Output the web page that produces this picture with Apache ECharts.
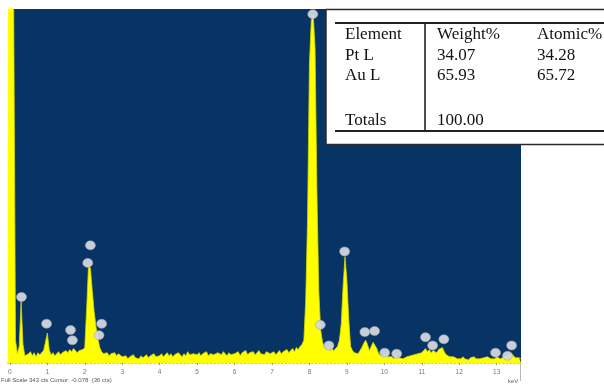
<!DOCTYPE html>
<html>
<head>
<meta charset="utf-8">
<title>EDS spectrum</title>
<script src="https://cdn.jsdelivr.net/npm/echarts@6/dist/echarts.min.js"></script>
<style>
  html, body { margin: 0; padding: 0; background: #ffffff; }
  #chart { width: 604px; height: 384px; }
</style>
</head>
<body>
<div id="chart"></div>
<script>
// Spectrum channels: counts sampled every 0.05 keV, starting at -0.05 keV
const energyStart = -0.05;
const energyStep = 0.05;
const counts = [
  400,
  // 0.00 - 0.95 keV
  400, 400, 360, 22, 9, 16, 60, 18, 7, 6, 9, 11, 7, 10, 6, 10, 8, 9, 12, 20,
  // 1.00 - 1.95 keV
  29, 13, 8, 10, 7, 9, 11, 8, 10, 9, 12, 10, 13, 11, 14, 12, 10, 12, 11, 13,
  // 2.00 - 2.95 keV
  15, 52, 94, 92, 70, 50, 35, 24, 15, 11, 9, 8, 10, 7, 9, 8, 10, 7, 9, 8,
  // 3.00 - 3.95 keV
  6, 5, 7, 4, 6, 5, 8, 5, 6, 4, 7, 5, 6, 8, 5, 7, 6, 9, 6, 7,
  // 4.00 - 4.95 keV
  7, 9, 6, 8, 10, 7, 9, 6, 8, 7, 10, 8, 6, 9, 7, 11, 8, 7, 9, 8,
  // 5.00 - 5.95 keV
  8, 10, 7, 9, 8, 11, 7, 9, 10, 8, 7, 10, 9, 8, 11, 9, 7, 10, 8, 9,
  // 6.00 - 6.95 keV
  9, 8, 11, 7, 10, 9, 12, 8, 10, 9, 11, 8, 10, 12, 9, 10, 8, 11, 10, 9,
  // 7.00 - 7.95 keV
  9, 11, 8, 10, 12, 9, 11, 10, 13, 10, 12, 14, 11, 15, 13, 16, 18, 22, 60, 140,
  // 8.00 - 8.95 keV
  290, 332, 338, 305, 165, 70, 32, 20, 15, 13, 15, 12, 14, 12, 13, 16, 22, 38, 75, 103,
  // 9.00 - 9.95 keV
  80, 42, 16, 12, 10, 11, 9, 12, 15, 19, 22, 18, 12, 16, 20, 21, 14, 9, 7, 8,
  // 10.00 - 10.95 keV
  7, 9, 6, 5, 6, 4, 7, 8, 5, 6, 4, 5, 6, 5, 7, 6, 8, 7, 9, 8,
  // 11.00 - 11.95 keV
  10, 12, 14, 11, 13, 10, 12, 11, 10, 13, 12, 15, 11, 8, 7, 6, 5, 6, 5, 4,
  // 12.00 - 12.95 keV
  5, 4, 6, 4, 5, 3, 5, 4, 6, 4, 5, 4, 3, 5, 4, 6, 5, 4, 5, 4,
  // 13.00 - 13.65 keV
  6, 5, 4, 5, 6, 5, 7, 6, 9, 7, 5, 4, 5, 4
];

// Peak identification markers: [energy keV, counts]
const peakMarkers = [
  [0.31, 64], [0.98, 38], [1.62, 32], [1.67, 22],
  [2.15, 114], [2.08, 97], [2.45, 38], [2.38, 27],
  [8.09, 338], [8.29, 37], [8.52, 17], [8.94, 108],
  [9.48, 30], [9.74, 31], [10.01, 10], [10.33, 9],
  [11.10, 25], [11.29, 17], [11.59, 23],
  [12.97, 10], [13.29, 7], [13.40, 17]
];

const tickLabels = [0, 1, 2, 3, 4, 5, 6, 7, 8, 9, 10, 11, 12, 13];
const fullScale = 343;

// Quantification table
const tableHeader = ['Element', 'Weight%', 'Atomic%'];
const tableRows = [
  ['Pt L', '34.07', '34.28'],
  ['Au L', '65.93', '65.72']
];
const tableTotals = ['Totals', '100.00'];

const spectrum = counts.map((c, i) => [+(energyStart + i * energyStep).toFixed(2), c]);

const serif = 'Liberation Serif, Times New Roman, serif';
const colX = [345, 437, 537];
const rowMid = [35, 55.5, 75.5];
const totalsMid = 120.5;

const graphics = [
  // table frame
  { type: 'rect', shape: { x: 326, y: 9.5, width: 290, height: 135 },
    style: { fill: '#ffffff', stroke: '#2a2a2a', lineWidth: 1.5 }, z: 100 },
  { type: 'line', shape: { x1: 335, y1: 23, x2: 604, y2: 23 },
    style: { stroke: '#222', lineWidth: 2 }, z: 101 },
  { type: 'line', shape: { x1: 335, y1: 131, x2: 604, y2: 131 },
    style: { stroke: '#222', lineWidth: 2 }, z: 101 },
  { type: 'line', shape: { x1: 425, y1: 23, x2: 425, y2: 131 },
    style: { stroke: '#222', lineWidth: 1.6 }, z: 101 },
  // right edge of energy scale
  { type: 'line', shape: { x1: 520.5, y1: 363, x2: 520.5, y2: 381 },
    style: { stroke: '#b8b8b8', lineWidth: 1 }, z: 50 },
  { type: 'text', left: 508, top: 378,
    style: { text: 'keV', fontSize: 6, fill: '#666', fontFamily: 'Liberation Sans, Arial' }, z: 50 },
  { type: 'text', left: 1, top: 377,
    style: { text: 'Full Scale ' + fullScale + ' cts Cursor: -0.078  (36 cts)', fontSize: 6,
             fill: '#555', fontFamily: 'Liberation Sans, Arial' }, z: 50 }
];

function addText(txt, x, midY) {
  graphics.push({ type: 'text', x: x, y: midY,
    style: { text: txt, fontSize: 17, fontFamily: serif, fill: '#111',
             verticalAlign: 'middle' }, z: 102 });
}
tableHeader.forEach((t, j) => addText(t, colX[j], rowMid[0]));
tableRows.forEach((row, i) => row.forEach((t, j) => addText(t, colX[j], rowMid[i + 1])));
tableTotals.forEach((t, j) => addText(t, colX[j], totalsMid));

const chart = echarts.init(document.getElementById('chart'), null, { renderer: 'canvas' });
chart.setOption({
  animation: false,
  backgroundColor: '#ffffff',
  grid: {
    left: 8, right: 83, top: 9, bottom: 21,
    show: true, backgroundColor: '#073465', borderWidth: 0
  },
  xAxis: {
    type: 'value', min: -0.05, max: 13.65,
    offset: 2,
    splitLine: { show: false },
    axisLine: { show: true, lineStyle: { color: '#a8a8a8', width: 1.5, type: [1, 2.75] } },
    axisTick: { show: true, customValues: tickLabels, length: 2, lineStyle: { color: '#999' } },
    axisLabel: { customValues: tickLabels, fontSize: 6.5, color: '#777', margin: 4,
                 fontFamily: 'Liberation Sans, Arial' }
  },
  yAxis: {
    type: 'value', min: 0, max: fullScale, show: false
  },
  series: [
    {
      type: 'line',
      data: spectrum,
      symbol: 'none',
      clip: true,
      lineStyle: { color: '#d6d600', width: 0.8 },
      areaStyle: { color: '#ffff00', opacity: 1 },
      z: 2
    },
    {
      type: 'scatter',
      data: peakMarkers,
      symbol: 'circle',
      symbolSize: [10, 9],
      itemStyle: { color: '#d3d7de', borderColor: '#9ea4ae', borderWidth: 0.6, opacity: 0.95 },
      clip: false,
      z: 5
    }
  ],
  graphic: graphics
});
</script>
</body>
</html>
